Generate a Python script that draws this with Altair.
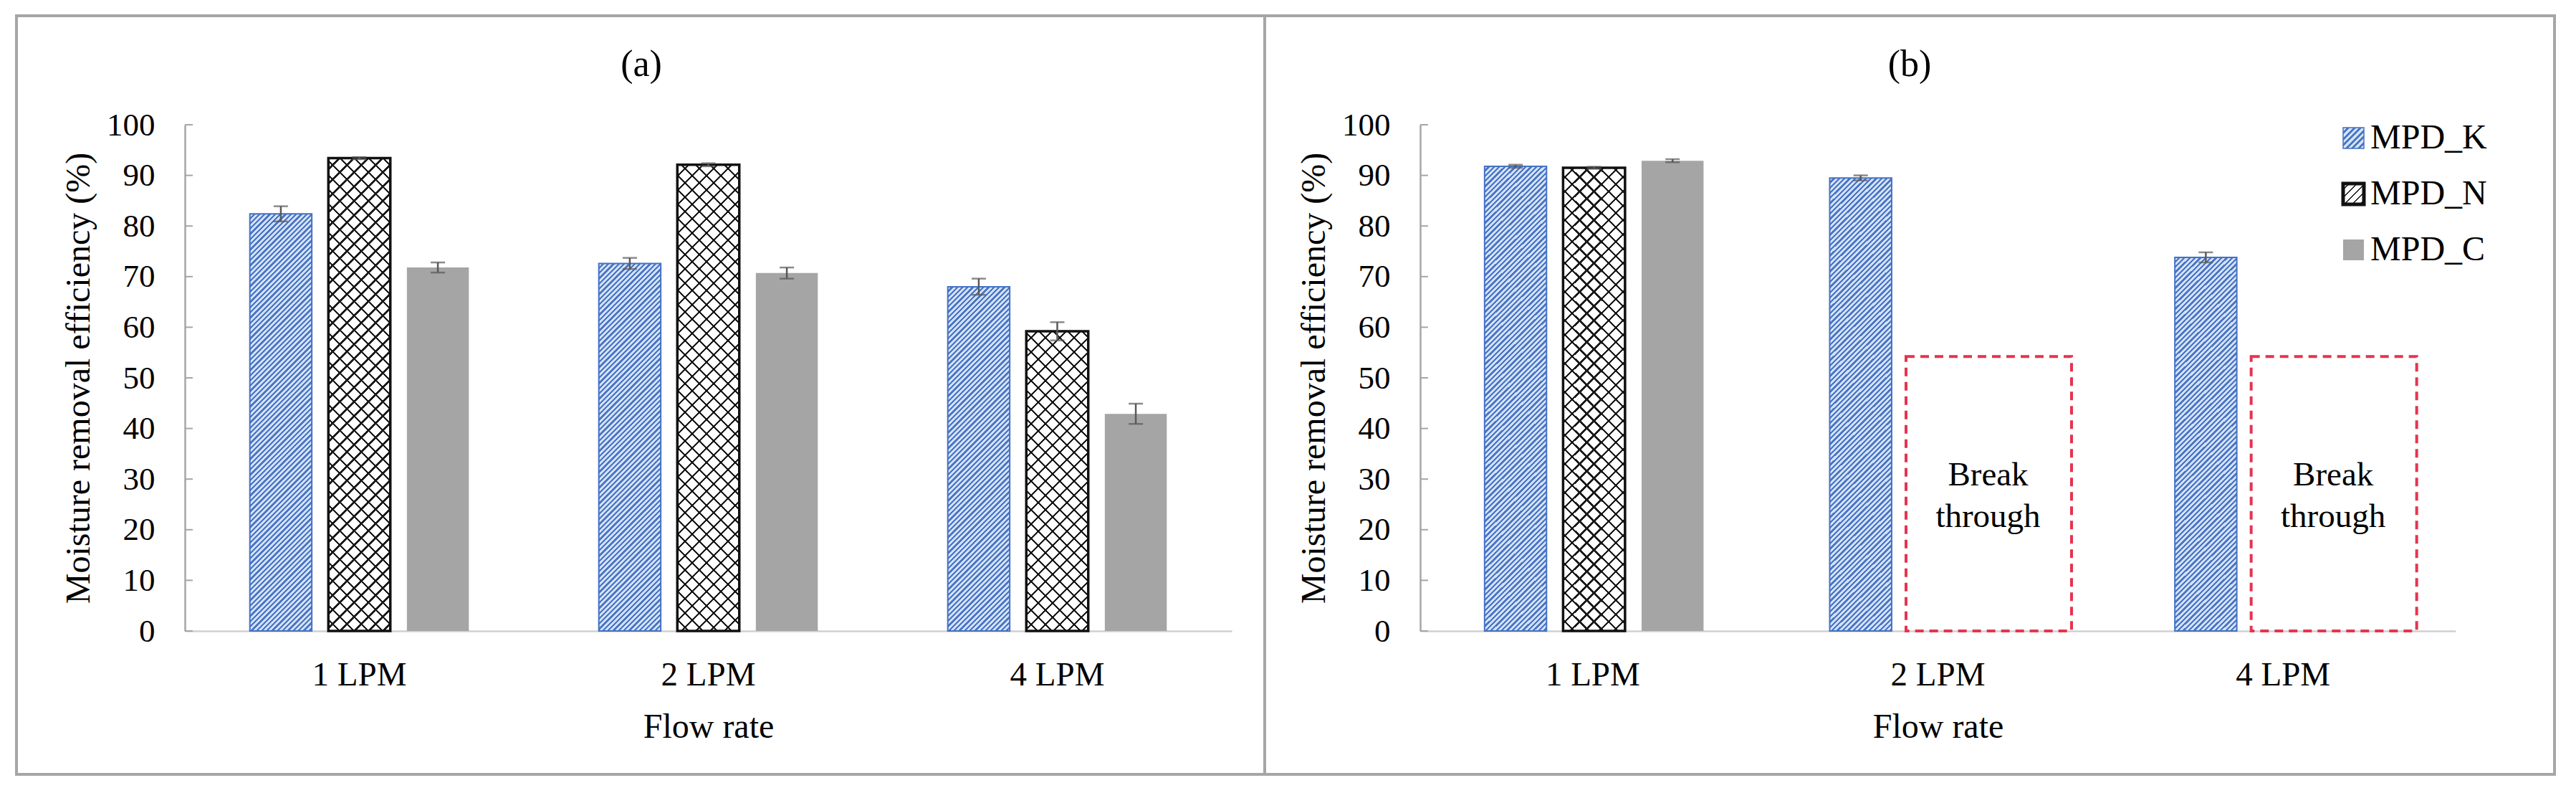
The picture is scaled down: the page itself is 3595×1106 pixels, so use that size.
import altair as alt
import pandas as pd

# ---------------- data ----------------
flows = ["1 LPM", "2 LPM", "4 LPM"]
series = ["MPD_K", "MPD_N", "MPD_C"]
y_ticks = [0, 10, 20, 30, 40, 50, 60, 70, 80, 90, 100]

# panel (a)
a_K = [82.4, 72.6, 68.0]
a_K_err = [1.5, 1.1, 1.6]
a_N = [93.4, 92.1, 59.2]
a_N_err = [0.2, 0.3, 1.8]
a_C = [71.8, 70.7, 42.9]
a_C_err = [1.0, 1.1, 2.0]

# panel (b)
b_K = [91.8, 89.5, 73.8]
b_K_err = [0.3, 0.5, 1.0]
b_N_flows = ["1 LPM"]
b_N = [91.5]
b_N_err = [0.2]
b_C_flows = ["1 LPM"]
b_C = [92.9]
b_C_err = [0.3]

break_flows = ["2 LPM", "4 LPM"]
break_top = [54.2, 54.2]
break_text = ["Break", "through"]

# ---------------- layout / style ----------------
FONT = "'Liberation Serif', 'Times New Roman', Times, serif"
H = 706
WA = 1461
WB = 1445
PI_X = 0.325
PI_O = 0.211
AX_GREY = "#a6a6a6"
K_LINE = "#4a76c6"
K_BG = "#d3e1f6"
K_EDGE = "#4472c4"
C_FILL = "#a5a5a5"
ERR = "#595959"
RED = "#e5344f"


def bar_width(W):
    band = W / 3 * (1 - PI_X)
    return band / 3 * (1 - PI_O)


def stripes(w, h, period, frac, c_line, c_bg, direction):
    r = w * w + h * h
    pt = period * w / r
    tmax = (w + h) * w / r
    stops = []
    t = -0.3 * pt
    while t < tmax + pt:
        for o, c in [(t, c_line), (t + frac * pt, c_line),
                     (t + frac * pt, c_bg), (t + pt, c_bg)]:
            o = min(max(o, 0.0), 1.0)
            stops.append({"offset": round(o, 6), "color": c})
        t += pt
    if direction == "up":
        x1, y1, x2, y2 = 0, 0, 1, h / w
    else:
        x1, y1, x2, y2 = 0, 1, 1, 1 - h / w
    return {"gradient": "linear", "x1": x1, "y1": y1, "x2": x2,
            "y2": round(y2, 6), "stops": stops}


xscale = alt.Scale(domain=flows, paddingInner=PI_X, paddingOuter=PI_X / 2)
oscale = alt.Scale(domain=series, paddingInner=PI_O, paddingOuter=PI_O / 2)
yscale = alt.Scale(domain=[0, 100], nice=False, zero=True)


def xaxis(W):
    return alt.Axis(labelAngle=0, ticks=False, tickSize=0, grid=False,
                    domainColor="#d0d0d0", domainWidth=2.5,
                    labelPadding=38, labelFont=FONT, labelFontSize=47,
                    labelColor="black", title="Flow rate", titleFont=FONT,
                    titleFontSize=48, titleFontWeight="normal",
                    titleColor="black", titleBaseline="alphabetic",
                    titleAlign="center", titleX=W / 2, titleY=148)


yaxis = alt.Axis(values=y_ticks, grid=False, ticks=False, tickSize=0,
                 domainColor=AX_GREY, domainWidth=2.5, labelPadding=42,
                 labelFont=FONT, labelFontSize=45, labelColor="black",
                 title="Moisture removal efficiency (%)", titleFont=FONT,
                 titleFontSize=48, titleFontWeight="normal",
                 titleColor="black", titleAngle=270,
                 titleBaseline="alphabetic", titleAlign="center",
                 titleX=-134, titleY=H / 2)


def X(W):
    return alt.X("flow:N", scale=xscale, axis=xaxis(W), title="Flow rate")


def XO():
    return alt.XOffset("series:N", scale=oscale)


def Y(field):
    return alt.Y(f"{field}:Q", scale=yscale, axis=yaxis,
                 title="Moisture removal efficiency (%)")


dummy = pd.DataFrame({"k": [0]})


def bar_layers(W, s, flist, vals):
    w = bar_width(W)
    out = []
    for f, v in zip(flist, vals):
        df = pd.DataFrame({"flow": [f], "series": [s], "value": [v]})
        h = v / 100 * H
        base = alt.Chart(df)
        enc = dict(x=X(W), xOffset=XO(), y=Y("value"))
        if s == "MPD_K":
            g = stripes(w, h, 7.3, 0.45, K_LINE, K_BG, "up")
            out.append(base.mark_bar(fill=g, stroke=K_EDGE, strokeWidth=2).encode(**enc))
        elif s == "MPD_N":
            g1 = stripes(w, h, 20, 0.17, "#1a1a1a", "#ffffff", "up")
            g2 = stripes(w, h, 20, 0.17, "#1a1a1a", "rgba(255,255,255,0)", "down")
            out.append(base.mark_bar(fill=g1).encode(**enc))
            out.append(base.mark_bar(fill=g2, stroke="#111111", strokeWidth=3.5).encode(**enc))
        else:
            out.append(base.mark_bar(fill=C_FILL).encode(**enc))
    return out


def err_layers(W, s, flist, vals, errs):
    df = pd.DataFrame({"flow": flist, "series": [s] * len(flist),
                       "lo": [v - e for v, e in zip(vals, errs)],
                       "hi": [v + e for v, e in zip(vals, errs)]})
    base = alt.Chart(df)
    rule = base.mark_rule(color=ERR, strokeWidth=2.5).encode(
        x=X(W), xOffset=XO(), y=Y("lo"), y2="hi:Q")
    cap_lo = base.mark_tick(color=ERR, orient="horizontal", size=20, thickness=2.5).encode(
        x=X(W), xOffset=XO(), y=Y("lo"))
    cap_hi = base.mark_tick(color=ERR, orient="horizontal", size=20, thickness=2.5).encode(
        x=X(W), xOffset=XO(), y=Y("hi"))
    return [rule, cap_lo, cap_hi]


def tick_layer(W):
    return alt.Chart(pd.DataFrame({"value": y_ticks})).mark_rule(
        color=AX_GREY, strokeWidth=2).encode(
        y=Y("value"), x=alt.value(0), x2=alt.value(11))


def frame(x1, x2):
    return alt.Chart(dummy).mark_rect(fillOpacity=0, stroke=AX_GREY, strokeWidth=4).encode(
        x=alt.value(x1), x2=alt.value(x2), y=alt.value(-152), y2=alt.value(906))


def title_mark(label, x):
    return alt.Chart(dummy).mark_text(text=label, font=FONT, fontSize=52,
                                      baseline="alphabetic", align="center",
                                      color="black").encode(
        x=alt.value(x), y=alt.value(-68))


# ---------------- panel (a) ----------------
layers_a = [frame(-235, 1507), title_mark("(a)", 637), tick_layer(WA)]
layers_a += bar_layers(WA, "MPD_K", flows, a_K)
layers_a += bar_layers(WA, "MPD_N", flows, a_N)
layers_a += bar_layers(WA, "MPD_C", flows, a_C)
layers_a += err_layers(WA, "MPD_K", flows, a_K, a_K_err)
layers_a += err_layers(WA, "MPD_N", flows, a_N, a_N_err)
layers_a += err_layers(WA, "MPD_C", flows, a_C, a_C_err)
panel_a = alt.layer(*layers_a).properties(width=WA, height=H)

# ---------------- panel (b) ----------------
layers_b = [frame(-217, 1583), title_mark("(b)", 683), tick_layer(WB)]
layers_b += bar_layers(WB, "MPD_K", flows, b_K)
layers_b += bar_layers(WB, "MPD_N", b_N_flows, b_N)
layers_b += bar_layers(WB, "MPD_C", b_C_flows, b_C)
layers_b += err_layers(WB, "MPD_K", flows, b_K, b_K_err)
layers_b += err_layers(WB, "MPD_N", b_N_flows, b_N, b_N_err)
layers_b += err_layers(WB, "MPD_C", b_C_flows, b_C, b_C_err)

brk = pd.DataFrame({"flow": break_flows, "value": break_top})
layers_b.append(alt.Chart(brk).mark_bar(width=231, xOffset=71, fillOpacity=0,
                                        stroke=RED, strokeWidth=4,
                                        strokeDash=[12, 8]).encode(
    x=X(WB), y=Y("value")))
layers_b.append(alt.Chart(brk).mark_text(text=break_text, font=FONT, fontSize=47,
                                         lineHeight=58, baseline="alphabetic",
                                         align="center", xOffset=70,
                                         color="black").encode(
    x=X(WB), y=alt.value(503)))

# legend
sw = 29
leg_x = 1288
leg_rows = [4, 82, 160]
leg_fills = [
    dict(fill=stripes(sw, sw, 8.5, 0.45, K_LINE, K_BG, "up"), stroke=K_EDGE, strokeWidth=1.5),
    dict(fill=stripes(sw, sw, 11, 0.2, "#1a1a1a", "#ffffff", "up"), stroke="#111111", strokeWidth=5),
    dict(fill=C_FILL),
]
for name, top, style in zip(series, leg_rows, leg_fills):
    layers_b.append(alt.Chart(dummy).mark_rect(**style).encode(
        x=alt.value(leg_x), x2=alt.value(leg_x + sw),
        y=alt.value(top), y2=alt.value(top + sw)))
    layers_b.append(alt.Chart(dummy).mark_text(text=name, font=FONT, fontSize=48,
                                               align="left", baseline="alphabetic",
                                               color="black").encode(
        x=alt.value(leg_x + 38), y=alt.value(top + 29)))

panel_b = alt.layer(*layers_b).properties(width=WB, height=H)

chart = alt.hconcat(panel_a, panel_b, spacing=263, bounds="flush").properties(
    padding={"left": 13, "top": 12, "right": 5, "bottom": 5},
    background="white",
).configure(font=FONT).configure_view(strokeWidth=0)

chart.save("out.html", embed_options={"renderer": "svg", "actions": False})
